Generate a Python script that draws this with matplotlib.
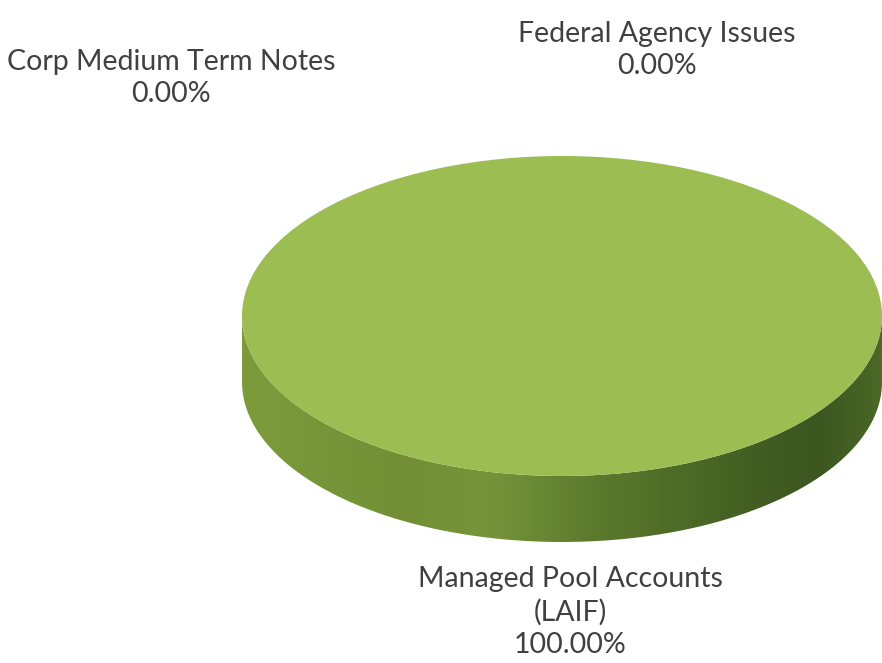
import numpy as np
import matplotlib
matplotlib.use("Agg")
import matplotlib.pyplot as plt
from matplotlib.path import Path
from matplotlib.patches import PathPatch
from matplotlib.colors import to_rgb

# ---- data ----
categories = ["Corp Medium Term Notes", "Federal Agency Issues", "Managed Pool Accounts\n(LAIF)"]
values = [0.00, 0.00, 100.00]
value_labels = ["0.00%", "0.00%", "100.00%"]

# ---- layout (pixels) ----
W, H = 882, 663
cx, cy, a, b, t = 562, 316, 320, 160, 66
label_pos = [(171, 78), (657, 50), (570, 612)]

top_color = "#9CBD52"
side_stops = [(0.0, "#7C9C3C"), (0.25, "#728F35"), (0.38, "#76953A"), (0.55, "#5C7A2D"),
              (0.8, "#425E22"), (0.9, "#3C5620"), (1.0, "#4A6826")]

plt.rcParams["font.family"] = ["Lato", "DejaVu Sans"]
fig = plt.figure(figsize=(W / 100, H / 100), dpi=100)
fig.patch.set_facecolor("white")

d = t / b
ax = fig.add_axes([(cx - a) / W, 1 - (cy + b + t) / H, 2 * a / W, (2 * b + t) / H])
ax.set_xlim(-1, 1)
ax.set_ylim(-1 - d, 1)
ax.axis("off")

# side of the 3D disc
th = np.linspace(np.pi, 2 * np.pi, 300)
xs = np.concatenate([np.cos(th), np.cos(th[::-1])])
ys = np.concatenate([np.sin(th), np.sin(th[::-1]) - d])
side_path = Path(np.column_stack([xs, ys]))
patch = PathPatch(side_path, facecolor="none", edgecolor="none")
ax.add_patch(patch)
gx = np.linspace(0, 1, 512)
grad = np.zeros((1, 512, 3))
pos = [s[0] for s in side_stops]
cols = np.array([to_rgb(s[1]) for s in side_stops])
for k in range(3):
    grad[0, :, k] = np.interp(gx, pos, cols[:, k])
im = ax.imshow(grad, extent=(-1, 1, -1 - d, 0), aspect="auto", zorder=1, interpolation="bilinear")
im.set_clip_path(patch)

# top face
wedges, _ = ax.pie(values, colors=[top_color] * len(values), radius=1, center=(0, 0),
                   startangle=90, counterclock=False, normalize=True,
                   wedgeprops=dict(linewidth=0, zorder=2))
ax.set_aspect("auto")
ax.set_xlim(-1, 1)
ax.set_ylim(-1 - d, 1)

for cat, val, (px, py) in zip(categories, value_labels, label_pos):
    fig.text(px / W, 1 - py / H, f"{cat}\n{val}", ha="center", va="center",
             fontsize=20.5, color="#404040", linespacing=1.3)

fig.savefig("out.png", dpi=100, facecolor="white")
